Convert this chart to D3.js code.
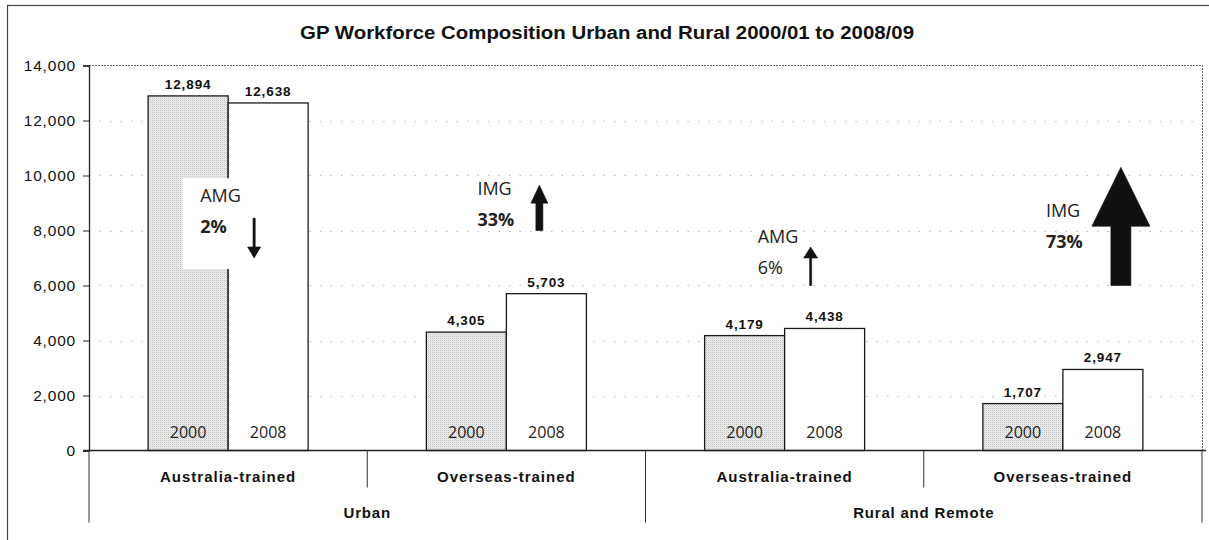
<!DOCTYPE html>
<html>
<head>
<meta charset="utf-8">
<script src="https://cdn.jsdelivr.net/npm/d3@7"></script>
<style>
  html, body { margin: 0; padding: 0; background: #fff; }
  svg { display: block; }
  .sans { font-family: "Liberation Sans", Arial, sans-serif; }
  .cal { font-family: "Open Sans", "Noto Sans", sans-serif; }
</style>
</head>
<body>
<svg id="chart" width="1209" height="540"></svg>
<script>
// ---- data ----
const titleText = "GP Workforce Composition Urban and Rural 2000/01 to 2008/09";
const groups = ["Urban", "Rural and Remote"];
const categoryGroup = [0, 0, 1, 1];
const categories = ["Australia-trained", "Overseas-trained", "Australia-trained", "Overseas-trained"];
const years = ["2000", "2008"];
const values2000 = [12894, 4305, 4179, 1707];
const values2008 = [12638, 5703, 4438, 2947];
const yTicks = [0, 2000, 4000, 6000, 8000, 10000, 12000, 14000];
// annotations: label, percent, arrow from/to (data units)
const annoLabels = ["AMG", "IMG", "AMG", "IMG"];
const annoPct = ["2%", "33%", "6%", "73%"];
const annoBold = [true, true, false, true];
const annoFrom = [8450, 8000, 6000, 6000];
const annoTo = [7000, 9650, 7400, 10300];

// ---- layout ----
const svg = d3.select("#chart");
const W = 1209, H = 540;
const plot = { left: 89, right: 1202, top: 65.5, bottom: 450.5 };

const x = d3.scaleBand().domain(d3.range(categories.length)).range([plot.left, plot.right]);
const xi = d3.scaleBand().domain(years).range([0, x.bandwidth()]).paddingInner(0).paddingOuter(0.739);
const y = d3.scaleLinear().domain([0, 14000]).range([plot.bottom, plot.top]);

// stipple pattern for 2000 bars
const defs = svg.append("defs");
const pat = defs.append("pattern").attr("id", "stip").attr("width", 2).attr("height", 2)
  .attr("patternUnits", "userSpaceOnUse");
pat.append("rect").attr("width", 2).attr("height", 2).attr("fill", "#f0f0f0");
pat.append("rect").attr("x", 0).attr("y", 0).attr("width", 1).attr("height", 1).attr("fill", "#c0c0c0");
pat.append("rect").attr("x", 1).attr("y", 1).attr("width", 1).attr("height", 1).attr("fill", "#dedede");

// outer frame
svg.append("rect").attr("x", 7.5).attr("y", 5.5).attr("width", W + 20).attr("height", H + 20)
  .attr("fill", "#fff").attr("stroke", "#444").attr("stroke-width", 1.2);

// title
svg.append("text").attr("class", "sans").attr("x", 300).attr("y", 39)
  .attr("font-size", 18).attr("font-weight", "bold")
  .attr("textLength", 614).attr("lengthAdjust", "spacingAndGlyphs")
  .attr("fill", "#111").text(titleText);

// gridlines
svg.append("g").selectAll("line").data(yTicks.filter(d => d > 0 && d < 14000)).join("line")
  .attr("x1", plot.left).attr("x2", plot.right)
  .attr("y1", d => Math.round(y(d)) + 0.5).attr("y2", d => Math.round(y(d)) + 0.5)
  .attr("stroke", "#b5b5b5").attr("stroke-width", 1).attr("stroke-dasharray", "1.5,9");

// plot border (top & right)
svg.append("path")
  .attr("d", `M${plot.left},${plot.top}H${plot.right + 0.5}V${plot.bottom}`)
  .attr("fill", "none").attr("stroke", "#666").attr("stroke-width", 1).attr("stroke-dasharray", "2,1");

// bars
const barData = [];
categories.forEach((c, i) => {
  barData.push({ i, year: years[0], v: values2000[i] });
  barData.push({ i, year: years[1], v: values2008[i] });
});
const bars = svg.append("g");
bars.selectAll("rect").data(barData).join("rect")
  .attr("x", d => x(d.i) + xi(d.year))
  .attr("y", d => y(d.v))
  .attr("width", xi.bandwidth())
  .attr("height", d => y(0) - y(d.v))
  .attr("fill", d => d.year === years[0] ? "url(#stip)" : "#fff")
  .attr("stroke", "#1a1a1a").attr("stroke-width", 1.3);

// value labels
svg.append("g").selectAll("text").data(barData).join("text")
  .attr("class", "sans")
  .attr("x", d => x(d.i) + xi(d.year) + xi.bandwidth() / 2)
  .attr("y", d => y(d.v) - 7)
  .attr("text-anchor", "middle").attr("font-size", 13.5).attr("font-weight", "bold")
  .attr("letter-spacing", 0.9).attr("fill", "#111")
  .text(d => d3.format(",")(d.v));

// year labels inside bars
svg.append("g").selectAll("text").data(barData).join("text")
  .attr("class", "cal")
  .attr("x", d => x(d.i) + xi(d.year) + xi.bandwidth() / 2)
  .attr("y", y(0) - 13)
  .attr("text-anchor", "middle").attr("font-size", 16).attr("fill", "#222")
  .text(d => d.year);

// white text box behind first annotation (covers bar border)
const a0x = x(0) + xi(years[0]) + xi.bandwidth() * 0.43;
svg.append("rect").attr("x", a0x).attr("y", y(9900)).attr("width", 95).attr("height", y(6600) - y(9900))
  .attr("fill", "#fff");

// annotations
const annoTextDx = [-28, -29, -27, -17];     // text left offset from band center (px)
const annoArrowDx = [26, 33, 26, 58];         // arrow x offset from band center (px)
const annoTextY = [9050, 9300, 7550, 8500];   // label baseline value
const annoSize = [ // head width, head length, shaft width
  [13, 11, 2.2], [17, 18, 7], [14, 11, 2], [58, 59, 20]
];
const ag = svg.append("g");
annoLabels.forEach((lab, i) => {
  const cx = x(i) + x.bandwidth() / 2;
  const tx = cx + annoTextDx[i];
  const ty = y(annoTextY[i]);
  ag.append("text").attr("class", "cal").attr("x", tx).attr("y", ty)
    .attr("font-size", 18).attr("fill", "#222").text(lab);
  ag.append("text").attr("class", "cal").attr("x", tx).attr("y", ty + 31)
    .attr("font-size", 18).attr("font-weight", annoBold[i] ? "bold" : "normal")
    .attr("fill", "#222").text(annoPct[i]);
  // arrow
  const ax = cx + annoArrowDx[i];
  const y0 = y(annoFrom[i]), y1 = y(annoTo[i]);
  const [hw, hl, sw] = annoSize[i];
  const dir = y1 < y0 ? -1 : 1; // -1 up
  const hb = y1 - dir * hl; // head base
  const p = [
    [ax - sw / 2, y0], [ax - sw / 2, hb], [ax - hw / 2, hb], [ax, y1],
    [ax + hw / 2, hb], [ax + sw / 2, hb], [ax + sw / 2, y0]
  ];
  ag.append("path").attr("d", d3.line()(p) + "Z").attr("fill", "#111").attr("stroke", "#111")
    .attr("stroke-width", 0.6).attr("stroke-linejoin", "miter");
});

// y axis
const yAxis = d3.axisLeft(y).tickValues(yTicks).tickFormat(d3.format(",")).tickSize(6).tickPadding(7);
const yg = svg.append("g").attr("transform", `translate(${plot.left},0)`).call(yAxis);
yg.select(".domain").attr("stroke", "#222").attr("stroke-width", 1.3);
yg.selectAll(".tick line").attr("stroke", "#222");
yg.selectAll("text").attr("class", "sans").attr("font-size", 15.5).attr("letter-spacing", 0.8)
  .attr("fill", "#111").attr("font-family", "'Liberation Sans', Arial, sans-serif");

// x axis baseline
svg.append("line").attr("x1", plot.left - 6).attr("x2", plot.right + 4)
  .attr("y1", y(0)).attr("y2", y(0)).attr("stroke", "#222").attr("stroke-width", 1.3);

// category separators
const seps = d3.range(categories.length + 1);
svg.append("g").selectAll("line").data(seps).join("line")
  .attr("x1", d => d < categories.length ? x(d) : plot.right)
  .attr("x2", d => d < categories.length ? x(d) : plot.right)
  .attr("y1", y(0))
  .attr("y2", d => (d === 0 || d === categories.length || categoryGroup[d] !== categoryGroup[d - 1]) ? y(0) + 72 : y(0) + 37)
  .attr("stroke", "#333").attr("stroke-width", 1);

// category labels
svg.append("g").selectAll("text").data(categories).join("text")
  .attr("class", "sans")
  .attr("x", (d, i) => x(i) + x.bandwidth() / 2).attr("y", y(0) + 31)
  .attr("text-anchor", "middle").attr("font-size", 15).attr("font-weight", "bold")
  .attr("letter-spacing", 1)
  .attr("fill", "#111").text(d => d);

// group labels
svg.append("g").selectAll("text").data(groups).join("text")
  .attr("class", "sans")
  .attr("x", (d, g) => {
    const idx = categoryGroup.map((v, k) => v === g ? k : -1).filter(k => k >= 0);
    return (x(idx[0]) + x(idx[idx.length - 1]) + x.bandwidth()) / 2;
  })
  .attr("y", y(0) + 67)
  .attr("text-anchor", "middle").attr("font-size", 15).attr("font-weight", "bold")
  .attr("letter-spacing", 0.8)
  .attr("fill", "#111").text(d => d);
</script>
</body>
</html>
